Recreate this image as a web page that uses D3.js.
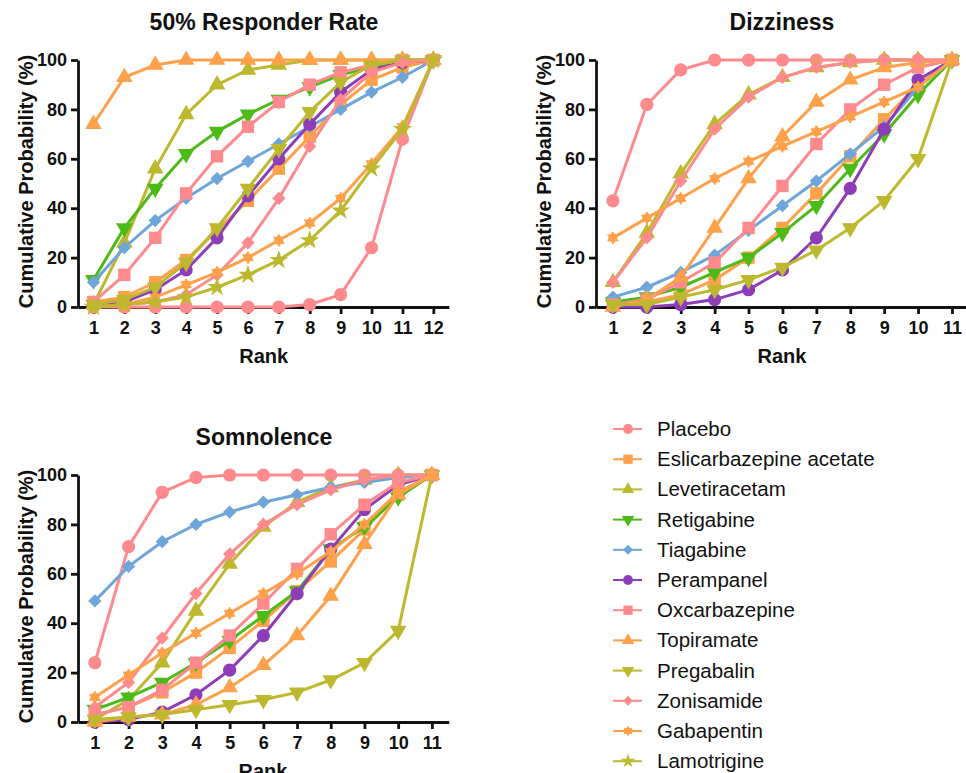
<!DOCTYPE html>
<html>
<head>
<meta charset="utf-8">
<script src="https://cdn.jsdelivr.net/npm/d3@7"></script>
<style>
  body { margin: 0; background: #fff; }
  text { font-family: "Liberation Sans", Arial, sans-serif; }
</style>
</head>
<body>
<div id="chart"></div>
<script>
// Treatments in legend order
const drugs = ["Placebo", "Eslicarbazepine acetate", "Levetiracetam", "Retigabine", "Tiagabine",
  "Perampanel", "Oxcarbazepine", "Topiramate", "Pregabalin", "Zonisamide", "Gabapentin", "Lamotrigine"];
const colors = ["#ff8a8e", "#ffa04a", "#bdb82e", "#4cbb17", "#6fa6da",
  "#8e3db8", "#ff8a8e", "#ffa04a", "#bdb82e", "#ff8a8e", "#ffa04a", "#bdb82e"];
const shapes = ["circle", "square", "triangle", "triangleDown", "diamond",
  "circle", "square", "triangle", "triangleDown", "diamond", "asterisk", "star"];

const yTicks = [0, 20, 40, 60, 80, 100];

// 50% Responder Rate (12 ranks)
const responderRanks = [1, 2, 3, 4, 5, 6, 7, 8, 9, 10, 11, 12];
const responderValues = [
  [0, 0, 0, 0, 0, 0, 0, 1, 5, 24, 68, 100],
  [2, 4, 10, 19, 31, 43, 56, 69, 82, 92, 97, 100],
  [1, 26, 56, 78, 90, 96, 98, 100, 100, 100, 100, 100],
  [11, 32, 48, 62, 71, 78, 84, 89, 94, 97, 99, 100],
  [10, 24, 35, 44, 52, 59, 66, 73, 80, 87, 93, 100],
  [1, 2, 7, 15, 28, 45, 60, 74, 87, 96, 99, 100],
  [2, 13, 28, 46, 61, 73, 83, 90, 95, 98, 100, 100],
  [74, 93, 98, 100, 100, 100, 100, 100, 100, 100, 100, 100],
  [1, 3, 8, 18, 32, 48, 64, 79, 91, 98, 100, 100],
  [0, 1, 2, 5, 13, 26, 44, 65, 84, 95, 99, 100],
  [0, 1, 4, 9, 14, 20, 27, 34, 44, 58, 73, 100],
  [0, 1, 2, 4, 8, 13, 19, 27, 39, 56, 72, 100]
];

// Dizziness (11 ranks, no Lamotrigine)
const dizzinessRanks = [1, 2, 3, 4, 5, 6, 7, 8, 9, 10, 11];
const dizzinessValues = [
  [43, 82, 96, 100, 100, 100, 100, 100, 100, 100, 100],
  [1, 2, 5, 11, 20, 32, 46, 61, 76, 90, 100],
  [10, 30, 54, 74, 86, 93, 97, 99, 100, 100, 100],
  [2, 4, 8, 14, 20, 30, 41, 56, 70, 86, 100],
  [4, 8, 14, 21, 31, 41, 51, 62, 73, 89, 100],
  [0, 0, 1, 3, 7, 15, 28, 48, 72, 92, 100],
  [1, 3, 10, 18, 32, 49, 66, 80, 90, 97, 100],
  [0, 3, 12, 32, 52, 69, 83, 92, 97, 99, 100],
  [1, 1, 4, 7, 11, 16, 23, 32, 43, 60, 100],
  [10, 28, 51, 72, 85, 93, 97, 99, 100, 100, 100],
  [28, 36, 44, 52, 59, 65, 71, 77, 83, 89, 100],
  null
];

// Somnolence (11 ranks, no Lamotrigine)
const somnolenceRanks = [1, 2, 3, 4, 5, 6, 7, 8, 9, 10, 11];
const somnolenceValues = [
  [24, 71, 93, 99, 100, 100, 100, 100, 100, 100, 100],
  [3, 6, 12, 20, 30, 41, 53, 65, 78, 92, 100],
  [1, 9, 24, 45, 64, 79, 89, 95, 98, 100, 100],
  [5, 10, 16, 24, 33, 43, 53, 70, 79, 91, 100],
  [49, 63, 73, 80, 85, 89, 92, 95, 97, 99, 100],
  [0, 1, 4, 11, 21, 35, 52, 70, 86, 96, 100],
  [3, 6, 13, 24, 35, 48, 62, 76, 88, 97, 100],
  [0, 2, 3, 7, 14, 23, 35, 51, 72, 92, 100],
  [1, 2, 3, 5, 7, 9, 12, 17, 24, 37, 100],
  [6, 16, 34, 52, 68, 80, 88, 94, 98, 100, 100],
  [10, 19, 28, 36, 44, 52, 60, 69, 80, 93, 100],
  null
];

const width = 966, height = 773;
const svg = d3.select("#chart").append("svg")
  .attr("width", width)
  .attr("height", height);

// marker drawing
function marker(g, shape, color, s) {
  if (shape === "circle") {
    g.append("circle").attr("r", 6.6 * s).attr("fill", color);
  } else if (shape === "square") {
    g.append("rect").attr("x", -6.2 * s).attr("y", -6.2 * s)
      .attr("width", 12.4 * s).attr("height", 12.4 * s).attr("fill", color);
  } else if (shape === "triangle" || shape === "triangleDown") {
    g.append("path")
      .attr("d", d3.symbol(d3.symbolTriangle, 120 * s * s)())
      .attr("transform", shape === "triangleDown" ? "rotate(180)" : null)
      .attr("fill", color);
  } else if (shape === "diamond") {
    g.append("path")
      .attr("d", d3.symbol(d3.symbolSquare, 88 * s * s)())
      .attr("transform", "rotate(45)")
      .attr("fill", color);
  } else if (shape === "asterisk") {
    g.append("circle").attr("r", 4.6 * s).attr("fill", color);
    g.append("path")
      .attr("d", d3.symbol(d3.symbolAsterisk, 105 * s * s)())
      .attr("stroke", color).attr("stroke-width", 2).attr("fill", "none");
  } else if (shape === "star") {
    g.append("path")
      .attr("d", d3.symbol(d3.symbolStar, 115 * s * s)())
      .attr("fill", color);
  }
}

function drawPanel(cfg) {
  const x = d3.scaleLinear()
    .domain([0.5, cfg.ranks.length + 0.5])
    .range([cfg.left, cfg.left + cfg.step * cfg.ranks.length]);
  const y = d3.scaleLinear().domain([0, 100]).range([cfg.bottom, cfg.top]);

  const g = svg.append("g");

  // Title
  g.append("text")
    .attr("x", cfg.titleX)
    .attr("y", cfg.top - 30)
    .attr("text-anchor", "middle")
    .style("font-size", "23px")
    .style("font-weight", "bold")
    .attr("fill", "#111")
    .text(cfg.title);

  // Axes
  const xAxis = g.append("g")
    .attr("transform", `translate(0,${cfg.bottom})`)
    .call(d3.axisBottom(x).tickValues(cfg.ranks).tickFormat(d3.format("d")).tickSize(7).tickSizeOuter(0));
  const yAxis = g.append("g")
    .attr("transform", `translate(${cfg.left},0)`)
    .call(d3.axisLeft(y).tickValues(yTicks).tickSize(7).tickSizeOuter(0));

  [xAxis, yAxis].forEach(a => {
    a.select(".domain").attr("stroke", "#111").attr("stroke-width", 2.8);
    a.selectAll(".tick line").attr("stroke", "#111").attr("stroke-width", 2.8);
    a.selectAll(".tick text")
      .attr("fill", "#111")
      .style("font-size", "18px")
      .style("font-weight", "bold")
      .style("font-family", "'Liberation Sans', Arial, sans-serif");
  });
  xAxis.selectAll(".tick text").attr("dy", "0.95em");
  yAxis.selectAll(".tick text").attr("dx", "-1px");

  // Axis titles
  g.append("text")
    .attr("x", (cfg.left + x(cfg.ranks.length)) / 2 + 8)
    .attr("y", cfg.bottom + 56)
    .attr("text-anchor", "middle")
    .style("font-size", "20px")
    .style("font-weight", "bold")
    .attr("fill", "#111")
    .text("Rank");

  g.append("text")
    .attr("transform", `translate(${cfg.left - 45},${(cfg.top + cfg.bottom) / 2 - 2}) rotate(-90)`)
    .attr("text-anchor", "middle")
    .style("font-size", "20px")
    .style("font-weight", "bold")
    .attr("fill", "#111")
    .text("Cumulative Probability (%)");

  // Lines and markers
  const line = d3.line()
    .x((d, i) => x(cfg.ranks[i]))
    .y(d => y(d));

  cfg.values.forEach((vals, k) => {
    if (!vals) return;
    const sg = g.append("g");
    sg.append("path")
      .datum(vals)
      .attr("d", line)
      .attr("fill", "none")
      .attr("stroke", colors[k])
      .attr("stroke-width", 3);
    vals.forEach((v, i) => {
      const m = sg.append("g").attr("transform", `translate(${x(cfg.ranks[i])},${y(v)})`);
      marker(m, shapes[k], colors[k], 1);
    });
  });
}

drawPanel({ title: "50% Responder Rate", ranks: responderRanks, values: responderValues,
  left: 78, step: 30.9, top: 60, bottom: 307, titleX: 264 });
drawPanel({ title: "Dizziness", ranks: dizzinessRanks, values: dizzinessValues,
  left: 596, step: 33.9, top: 60, bottom: 307, titleX: 782 });
drawPanel({ title: "Somnolence", ranks: somnolenceRanks, values: somnolenceValues,
  left: 78, step: 33.7, top: 475, bottom: 722, titleX: 264 });

// Legend
const legend = svg.append("g");
drugs.forEach((name, k) => {
  const cy = 429 + k * 30.2;
  legend.append("line")
    .attr("x1", 613).attr("x2", 642)
    .attr("y1", cy).attr("y2", cy)
    .attr("stroke", colors[k]).attr("stroke-width", 2);
  const m = legend.append("g").attr("transform", `translate(628,${cy})`);
  marker(m, shapes[k], colors[k], 0.75);
  legend.append("text")
    .attr("x", 657)
    .attr("y", cy + 7)
    .style("font-size", "20.5px")
    .attr("fill", "#111")
    .text(name);
});
</script>
</body>
</html>
